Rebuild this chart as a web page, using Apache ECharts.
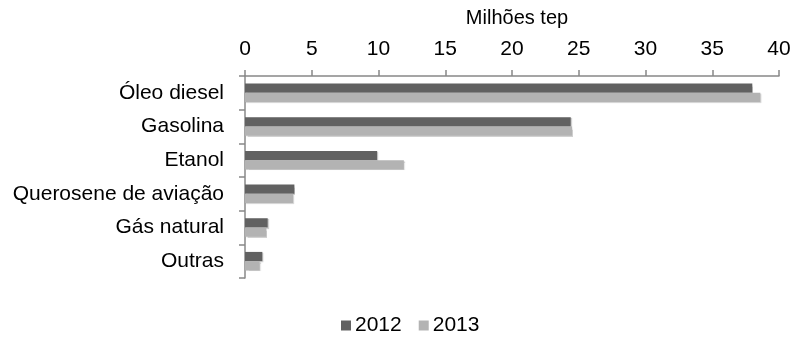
<!DOCTYPE html>
<html>
<head>
<meta charset="utf-8">
<script src="https://cdn.jsdelivr.net/npm/echarts@6/dist/echarts.min.js"></script>
<style>
  html, body { margin: 0; padding: 0; background: #fff; }
  #chart { width: 794px; height: 338px; }
</style>
</head>
<body>
<div id="chart"></div>
<script>
// Consumo de energia no setor de transportes, por fonte (milhões tep)
const categories = ['Óleo diesel', 'Gasolina', 'Etanol', 'Querosene de aviação', 'Gás natural', 'Outras'];
const values2012 = [38.0, 24.4, 9.9, 3.7, 1.7, 1.3];
const values2013 = [38.6, 24.5, 11.9, 3.6, 1.6, 1.1];
const seriesNames = ['2012', '2013'];
const axisMin = 0;
const axisMax = 40;
const axisStep = 5;
const axisTitle = 'Milhões tep';

const FONT = '"Liberation Sans", Arial, sans-serif';
const axisGrey = '#888888';

const chart = echarts.init(document.getElementById('chart'), null, { renderer: 'canvas' });

const barShadow = {
  shadowColor: 'rgba(0,0,0,0.18)',
  shadowBlur: 1,
  shadowOffsetX: 1,
  shadowOffsetY: 1
};

chart.setOption({
  animation: false,
  backgroundColor: '#ffffff',
  textStyle: { fontFamily: FONT },
  grid: { left: 245, right: 15, top: 76, bottom: 60, containLabel: false },
  legend: {
    data: seriesNames,
    top: 315,
    left: 341,
    padding: 0,
    itemWidth: 10,
    itemHeight: 10,
    itemGap: 17,
    icon: 'rect',
    textStyle: { fontSize: 21, color: '#000', fontFamily: FONT, padding: [0, 0, 0, -1] }
  },
  xAxis: {
    type: 'value',
    position: 'top',
    min: axisMin,
    max: axisMax,
    interval: axisStep,
    name: axisTitle,
    nameLocation: 'middle',
    nameGap: 48,
    nameTextStyle: { fontSize: 20, color: '#000', fontFamily: FONT, padding: [0, 0, 0, 10] },
    axisLine: { show: true, lineStyle: { color: axisGrey, width: 1.5 } },
    axisTick: { show: true, length: 6, lineStyle: { color: axisGrey, width: 1.5 } },
    axisLabel: { fontSize: 21, color: '#000', margin: 16, fontFamily: FONT },
    splitLine: { show: false }
  },
  yAxis: {
    type: 'category',
    data: categories,
    inverse: true,
    axisLine: { show: true, lineStyle: { color: axisGrey, width: 1.5 } },
    axisTick: { show: true, length: 6, alignWithLabel: false, lineStyle: { color: axisGrey, width: 1.5 } },
    axisLabel: { fontSize: 21, color: '#000', margin: 21, fontFamily: FONT }
  },
  series: [
    {
      name: seriesNames[0],
      type: 'bar',
      data: values2012,
      barGap: '0%',
      barCategoryGap: '45%',
      itemStyle: Object.assign({ color: '#616161' }, barShadow)
    },
    {
      name: seriesNames[1],
      type: 'bar',
      data: values2013,
      barGap: '0%',
      barCategoryGap: '45%',
      itemStyle: Object.assign({ color: '#b3b3b3' }, barShadow)
    }
  ]
});
</script>
</body>
</html>
